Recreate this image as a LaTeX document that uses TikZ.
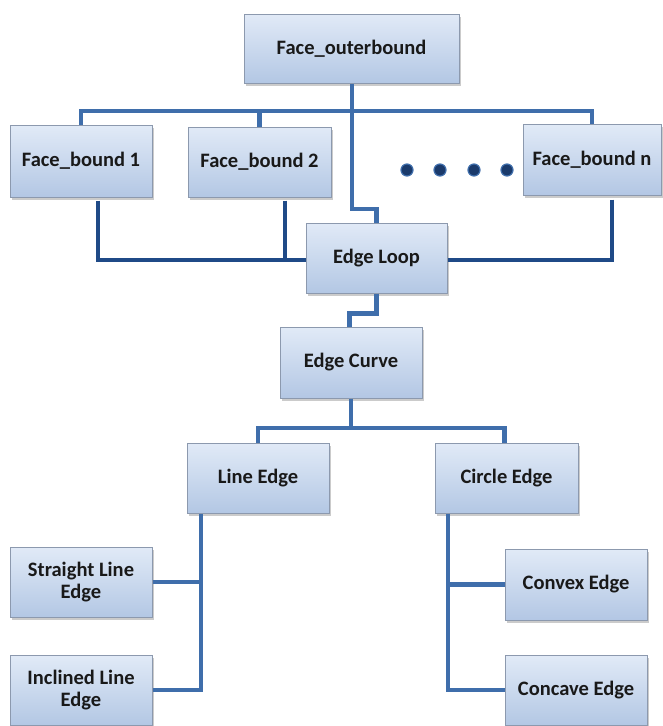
\documentclass[tikz,border=0pt]{standalone}
\usepackage{fontspec}
\setmainfont{Carlito}
\usetikzlibrary{shadows}
\definecolor{boxtop}{HTML}{E1EAF7}
\definecolor{boxbot}{HTML}{B3C7E4}
\definecolor{boxline}{HTML}{8C99AE}
\definecolor{connblue}{HTML}{3F6EAB}
\definecolor{conndark}{HTML}{1F4A87}
\definecolor{dotfill}{HTML}{1A3A6B}
\tikzset{
  box/.style={draw=boxline, line width=1pt, top color=boxtop, bottom color=boxbot,
    minimum width=142pt, minimum height=70pt, inner sep=2pt, align=center,
    font=\bfseries\fontsize{20.5}{22.5}\selectfont, text=black!90,
    drop shadow={shadow xshift=2pt, shadow yshift=-2.5pt, fill=black!45, opacity=0.45}},
  conn/.style={draw=connblue, line width=4.2pt},
  dconn/.style={draw=conndark, line width=4.6pt},
  dotmark/.style={fill=dotfill, draw=connblue, line width=1.2pt}
}
\begin{document}
\begin{tikzpicture}[x=1pt,y=-1pt]
\useasboundingbox (0,0) rectangle (663,726);
\fill[white] (0,0) rectangle (663,726);
% nodes
\node[box, minimum width=215pt, minimum height=69pt] (outer) at (351.5,48.5) {Face\_outerbound};
\node[box, minimum height=72pt] (fb1) at (81,161) {Face\_bound 1};
\node[box, minimum width=143pt] (fb2) at (259.5,162) {Face\_bound 2};
\node[box, minimum width=138pt, minimum height=71pt] (fbn) at (592,159.5) {Face\_bound n};
\node[box, minimum width=141pt] (loop) at (376.5,258) {Edge Loop};
\node[box, minimum height=71pt] (curve) at (351,362.5) {Edge Curve};
\node[box] (line) at (258,478) {Line Edge};
\node[box, minimum width=143pt] (circle) at (506.5,478) {Circle Edge};
\node[box] (straight) at (81,582) {Straight Line\\Edge};
\node[box] (inclined) at (81,690) {Inclined Line\\Edge};
\node[box, minimum height=71pt] (convex) at (576,584.5) {Convex Edge};
\node[box] (concave) at (576,690) {Concave Edge};
% dots
\foreach \i/\x in {1/407,2/440,3/474,4/507}
  \node[circle, dotmark, minimum size=12pt, inner sep=0pt] (dot\i) at (\x,170) {};
% coordinates
\coordinate (bus1) at (352,111);
\coordinate (step1) at (352,209);
\coordinate (bus2) at (351,428);
\coordinate (lv) at (201,690);
\coordinate (cv) at (448,692);
% connectors (top tree)
\draw[conn] (outer.south -| bus1) -- (bus1);
\draw[conn] (fb1.north) |- (bus1) -| (fbn.north);
\draw[conn] (fb2.north) -- (fb2.north |- bus1);
\draw[conn] (bus1) -- (step1) -| (loop.north);
% loop connectors (dark)
\draw[dconn] ([xshift=17pt,yshift=-3pt]fb1.south) |- ([yshift=-2pt]loop.west);
\draw[dconn] ([xshift=25.5pt,yshift=-3pt]fb2.south) -- ([xshift=25.5pt]fb2.south |- loop.west);
\draw[dconn] ([xshift=20pt,yshift=-4pt]fbn.south) |- ([yshift=-2pt]loop.east);
% lower tree
\draw[conn] (loop.south) -- ++(0,20) -| ([xshift=-1.5pt]curve.north);
\draw[conn] (curve.south) -- (bus2);
\draw[conn] (line.north) |- (bus2) -| ([xshift=-2pt]circle.north);
\draw[conn] ([xshift=-57pt]line.south) -- ([xshift=-57pt]line.south |- straight.east) |- (inclined.east);
\draw[conn] (straight.east) -- (straight.east -| lv);
\draw[conn] ([xshift=-58.5pt]circle.south) |- (concave.west);
\draw[conn] (convex.west) -- (convex.west -| cv);
\end{tikzpicture}
\end{document}
